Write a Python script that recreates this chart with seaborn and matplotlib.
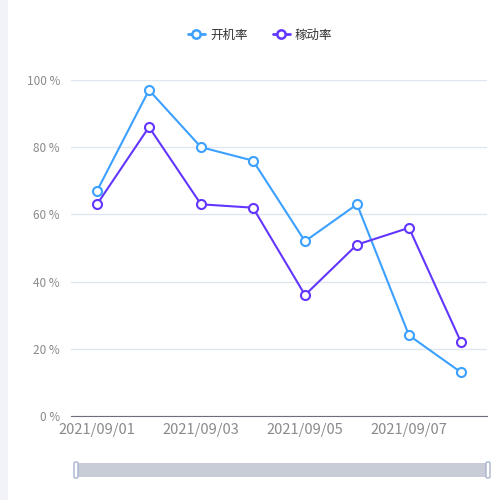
import pandas as pd
import numpy as np
import matplotlib.pyplot as plt
import seaborn as sns
from matplotlib.patches import Rectangle, FancyBboxPatch
from matplotlib.lines import Line2D

# data
dates = ["2021/09/01", "2021/09/02", "2021/09/03", "2021/09/04",
         "2021/09/05", "2021/09/06", "2021/09/07", "2021/09/08"]
kaiji = [67, 97, 80, 76, 52, 63, 24, 13]      # 开机率
jiadong = [63, 86, 63, 62, 36, 51, 56, 22]    # 稼动率
series_names = ["开机率", "稼动率"]
colors = ["#3ba0ff", "#6236ff"]

df = pd.DataFrame({
    "idx": list(range(len(dates))) * 2,
    "value": kaiji + jiadong,
    "series": [series_names[0]] * len(dates) + [series_names[1]] * len(dates),
})

sns.set_style("white")
plt.rcParams["font.family"] = ["Noto Sans CJK SC", "DejaVu Sans"]

fig = plt.figure(figsize=(5, 5), dpi=100)
fig.patch.set_facecolor("white")

# left gray strip
fig.patches.append(Rectangle((0, 0), 8 / 500, 1, transform=fig.transFigure,
                             facecolor="#f2f3f8", edgecolor="none", zorder=0))

ax = fig.add_axes([71 / 500, 1 - 416 / 500, 416 / 500, 336 / 500])
sns.lineplot(data=df, x="idx", y="value", hue="series", palette=colors,
             marker="o", markersize=6.5, markerfacecolor="white",
             markeredgewidth=1.5, linewidth=1.5, legend=False, ax=ax)
# make marker edges match line colours
for line, c in zip(ax.get_lines(), colors):
    line.set_markeredgecolor(c)

ax.set_xlim(-0.5, len(dates) - 0.5)
ax.set_ylim(0, 100)
ax.set_yticks([0, 20, 40, 60, 80, 100])
ax.set_yticklabels([f"{v} %" for v in [0, 20, 40, 60, 80, 100]],
                   color="#8a8a8a", fontsize=8.5)
ax.set_xticks(range(0, len(dates), 2))
ax.set_xticklabels(dates[::2], color="#8a8a8a", fontsize=10.5)
ax.tick_params(axis="y", length=0, pad=8)
ax.tick_params(axis="x", length=5, color="#6e7079", width=1, pad=0, direction="out")
ax.set_xlabel("")
ax.set_ylabel("")
for s in ["top", "right", "left"]:
    ax.spines[s].set_visible(False)
ax.spines["bottom"].set_color("#6e7079")
ax.yaxis.grid(True, color="#e0e6f1", linewidth=1)
ax.set_axisbelow(True)

# legend
handles = [Line2D([0], [0], color=c, linewidth=2, marker="o", markersize=6,
                  markerfacecolor="white", markeredgecolor=c, markeredgewidth=1.8)
           for c in colors]
fig.legend(handles, series_names, loc="center", bbox_to_anchor=(0.52, 0.93),
           ncol=2, frameon=False, fontsize=9, handlelength=1.4,
           columnspacing=2.0, handletextpad=0.4, labelcolor="#333333")

# data zoom slider (decoration)
sl = fig.add_axes([73 / 500, 1 - 479 / 500, 418 / 500, 18 / 500])
sl.set_xlim(0, 418)
sl.set_ylim(0, 18)
sl.axis("off")
sl.add_patch(Rectangle((3, 2), 412, 14, facecolor="#c8ccd6", edgecolor="none"))
for hx in [1, 413]:
    sl.add_patch(FancyBboxPatch((hx, 1), 4, 16, boxstyle="round,pad=0,rounding_size=1.5",
                                facecolor="white", edgecolor="#a8b4d0", linewidth=1))

fig.savefig("out.png", dpi=100)
